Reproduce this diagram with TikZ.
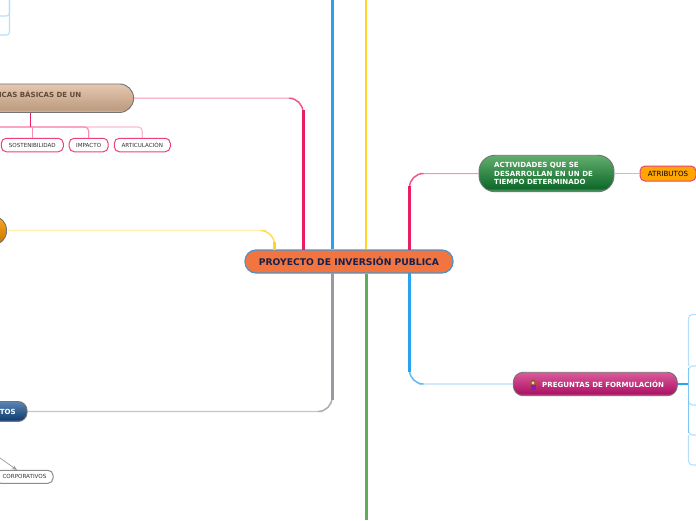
\documentclass[tikz,border=0pt]{standalone}
\usepackage{fontspec}
\setmainfont{DejaVu Sans}
\usetikzlibrary{arrows.meta}
\definecolor{rootfill}{HTML}{F27540}
\definecolor{rootdraw}{HTML}{4A93CC}
\definecolor{roottext}{HTML}{14204F}
\definecolor{linkpink}{HTML}{E91E63}
\definecolor{linkpale}{HTML}{F88FB2}
\definecolor{linkblue}{HTML}{2BA3EC}
\definecolor{linkmid}{HTML}{7EC6F6}
\definecolor{linksky}{HTML}{B5DFFA}
\definecolor{linkyellow}{HTML}{FFD42A}
\definecolor{linkcream}{HTML}{FFF0B0}
\definecolor{linkgreen}{HTML}{5CAD5C}
\definecolor{linkgray}{HTML}{99999F}
\definecolor{linksilver}{HTML}{C4C4C8}
\definecolor{labelbrown}{HTML}{5E4B3A}
\definecolor{browntop}{HTML}{E6C8B0}\definecolor{brownlow}{HTML}{BD9C80}
\definecolor{greentop}{HTML}{62AE6E}\definecolor{greenlow}{HTML}{0F6A2A}
\definecolor{magtop}{HTML}{DC5A9C}\definecolor{maglow}{HTML}{AC1466}
\definecolor{navytop}{HTML}{5A86B4}\definecolor{navylow}{HTML}{143F72}
\definecolor{orangetop}{HTML}{F8A825}\definecolor{orangelow}{HTML}{CC7800}
\newcommand{\glossshade}[2]{\pgfdeclareverticalshading{#1}{100bp}{color(0bp)=(#2low!60!white); color(25bp)=(#2low!60!white); color(30bp)=(#2low); color(75bp)=(#2top); color(100bp)=(#2top)}}
\glossshade{brownshade}{brown}
\glossshade{greenshade}{green}
\glossshade{magshade}{mag}
\glossshade{navyshade}{navy}
\glossshade{orangeshade}{orange}
\tikzset{
    topicbox/.style={draw=black!55,line width=0.9pt,inner sep=0pt},
    leafbox/.style={draw=linkpink!85,fill=white,line width=1pt,rounded corners=5,minimum height=13.5,inner sep=0pt,text=black!80,font=\fontsize{5.6}{7}\selectfont},
    toptext/.style={text=white,inner sep=0pt,font=\fontsize{7.05}{8.5}\bfseries}
}
\begin{document}
\begin{tikzpicture}[x=1pt,y=-1pt]
    \useasboundingbox (0,0) rectangle (696,520);
    \clip (0,0) rectangle (696,520);
    % Root
        \node[draw=rootdraw,fill=rootfill,line width=1.2pt,rounded corners=11,minimum width=208,minimum height=23,inner sep=0pt,text=roottext,font=\fontsize{9.2}{10}\bfseries] (root) at (349,261.5) {PROYECTO DE INVERSIÓN PUBLICA};
    % Topics
        \node[topicbox,shading=brownshade,rounded corners=14,minimum width=200,minimum height=28.5,anchor=east] (basicas) at (134,98.2) {};
        \node[text=labelbrown,inner sep=0pt,anchor=east,font=\fontsize{7.05}{8.5}\bfseries] (basicaslabel) at (81.5,94) {ICAS BÁSICAS DE UN};
        \node[topicbox,shading=orangeshade,rounded corners=14,minimum width=40,minimum height=29,anchor=east] (orange) at (7,230.5) {};
        \node[topicbox,shading=navyshade,rounded corners=9,minimum width=60,minimum height=20,anchor=east] (tos) at (27.5,411.5) {};
        \node[toptext,anchor=east] (toslabel) at (16,411.5) {TOS};
        \node[topicbox,shading=greenshade,rounded corners=16,minimum width=135,minimum height=36.5] (actividades) at (546.5,173.5) {};
        \node[toptext,align=left,anchor=west] (actividadeslabel) at (494,173.5) {ACTIVIDADES QUE SE\\DESARROLLAN EN UN DE\\TIEMPO DETERMINADO};
        \node[topicbox,shading=magshade,rounded corners=10,minimum width=164,minimum height=23.5] (preguntas) at (595.3,384) {};
        \node[toptext,anchor=west] (preguntaslabel) at (542,384) {PREGUNTAS DE FORMULACIÓN};
    % Little figure
        \draw[orange!70!black,line width=0.7pt] (527.5,382.5) -- (531,385.5) (538.5,382.5) -- (535,385.5);
        \fill[violet!75!blue!85!white] (530.5,385) rectangle (535.5,389.5);
        \fill[brown!70!black] (533,382.2) circle (2.6);
        \fill[orange!45!white] (533,382.8) circle (1.7);
    % Leaves
        \node[leafbox,fill=orange!70!yellow,minimum width=56,minimum height=15,text=black,font=\fontsize{7.1}{8}\selectfont] (atributos) at (668,173.5) {ATRIBUTOS};
        \foreach \n/\c/\w/\t in {sostenibilidad/32.3/62/SOSTENIBILIDAD,impacto/88.7/39/IMPACTO,articulacion/142.3/56/ARTICULACIÓN}{
            \node[leafbox,minimum width=\w] (\n) at (\c,145) {\t};
        }
        \node[leafbox,draw=black!45,minimum width=57,minimum height=13,anchor=east] (corporativos) at (53.5,476.8) {CORPORATIVOS};
    % Free ends
        \coordinate (tipcorp) at (17,470);
        \coordinate (tailcorp) at (0,458);
        \coordinate (rootpink) at (303,250);
        \coordinate (rootyellow) at (274.5,250);
        \coordinate (rootgray) at (332,273);
        \coordinate (rootblue) at (409.5,273);
        \coordinate (rootred) at (409.5,250);
    % Root links, thin part
        \draw[linkpale,line width=1pt,rounded corners=14] (basicas.east) -| (rootpink);
        \draw[linkcream,line width=1.2pt,rounded corners=14] (orange.east) -| (rootyellow);
        \draw[linksilver,line width=1.2pt,rounded corners=14] (tos.east) -| (rootgray);
        \draw[linksky,line width=1.2pt,rounded corners=14] (preguntas.west) -| (rootblue);
        \draw[linkpale,line width=1pt,rounded corners=14] (actividades.west) -| (rootred);
    % Root links, thick part
        \draw[linkpink!75!white,line width=1.4pt,rounded corners=14] (293,98.2) -| (303,125);
        \draw[linkpink,line width=3pt] (rootpink) -- (303,110);
        \draw[linkyellow!80!white,line width=1.4pt,rounded corners=14] (266,230.5) -| (274.5,245);
        \draw[linkyellow,line width=2.6pt] (rootyellow) -- (274.5,242);
        \draw[linkgray!80!white,line width=1.4pt,rounded corners=14] (322,411.5) -| (332,385);
        \draw[linkgray,line width=3pt] (rootgray) -- (332,400);
        \draw[linkblue!75!white,line width=1.4pt,rounded corners=14] (419,384) -| (409.5,360);
        \draw[linkblue,line width=3pt] (rootblue) -- (409.5,372);
        \draw[linkpink!75!white,line width=1.4pt,rounded corners=14] (420,173.5) -| (409.5,200);
        \draw[linkpink,line width=3pt] (rootred) -- (409.5,186);
        \draw[linkblue,line width=3pt] (root.north -| 332,0) -- (332,0);
        \draw[linkyellow,line width=2.6pt] (root.north -| 366,0) -- (366,0);
        \draw[linkgreen,line width=3pt] (root.south -| 366,0) -- (366,520);
    % Basicas links
        \draw[linkpale!60,line width=1.2pt,rounded corners=4] (0,127) -| (articulacion.north);
        \draw[linkpale,line width=1.2pt,rounded corners=4] (0,127) -| (impacto.north);
        \draw[linkpale,line width=1.2pt] (sostenibilidad.north) -- (sostenibilidad.north |- 0,127);
        \draw[linkpink,line width=1.4pt] (basicas.south -| 30.5,0) -- (30.5,127);
    % Other links
        \draw[linkpale!80,line width=1pt] (actividades.east) -- (atributos.west);
        \draw[-{Stealth[length=5pt,width=4pt]},linkgray,line width=0.7pt] (tailcorp) -- (tipcorp);
        \draw[linkblue,line width=2pt] (preguntas.east) -- (688.5,384);
    % Blue brackets, right
        \draw[linksky,line width=1.1pt,rounded corners=4] (696,314.5) -| (688.5,366);
        \draw[linksky,line width=1.1pt,rounded corners=4] (696,366) -| (688.5,375);
        \draw[linksky,line width=1.1pt,rounded corners=4] (688.5,395) |- (696,405);
        \draw[linksky,line width=1.1pt,rounded corners=4] (688.5,425) |- (696,435);
        \draw[linksky,line width=1.1pt,rounded corners=4] (688.5,435) |- (696,465);
        \draw[linkmid,line width=1.3pt] (688.5,368) -- (688.5,433);
    % Blue brackets, left
        \draw[linksky,line width=1.1pt,rounded corners=3] (9.5,0) |- (0,35);
        \draw[linksky,line width=1.1pt,rounded corners=3] (9.5,0) |- (0,16);
\end{tikzpicture}
\end{document}
